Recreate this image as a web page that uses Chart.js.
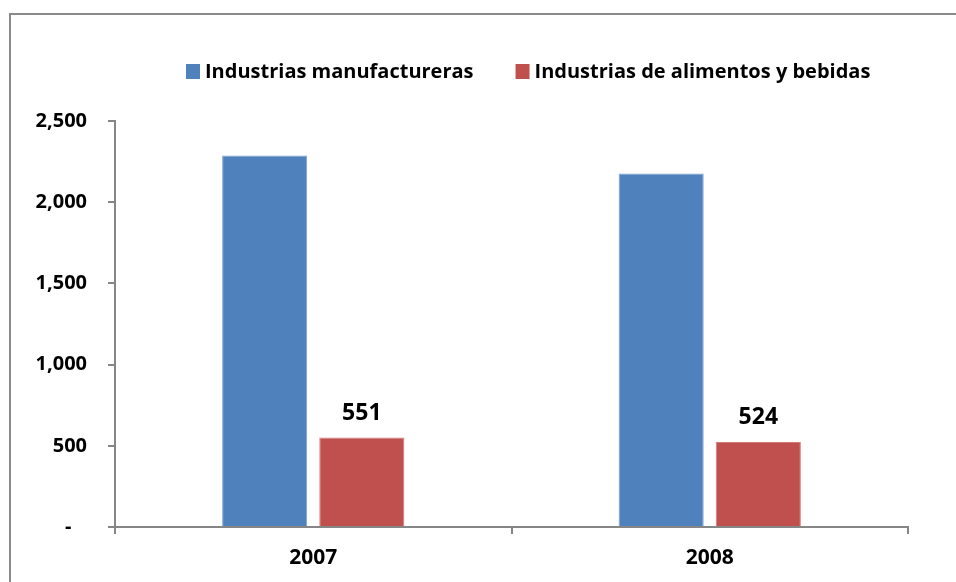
<!DOCTYPE html>
<html>
<head>
<meta charset="utf-8">
<script src="https://cdn.jsdelivr.net/npm/chart.js@4.4.1/dist/chart.umd.min.js"></script>
<style>
    html, body { margin: 0; padding: 0; background: #fff; overflow: hidden; }
    #wrap { position: relative; width: 956px; height: 582px; }
    #frame {
        position: absolute; left: 9px; top: 13px;
        width: 1000px; height: 700px;
        border: 2px solid #8a8a8a; box-sizing: border-box;
    }
    canvas { position: absolute; left: 0; top: 0; }
</style>
</head>
<body>
<div id="wrap">
    <div id="frame"></div>
    <canvas id="chart" width="956" height="582"></canvas>
</div>
<script>
    // Years and series values
    const years = ['2007', '2008'];
    const manufacturing = [2287, 2176];
    const foodBeverage = [551, 524];
    const seriesNames = ['Industrias manufactureras', 'Industrias de alimentos y bebidas'];
    const yTicks = [0, 500, 1000, 1500, 2000, 2500];

    const FONT = '"Open Sans", "Noto Sans", sans-serif';
    const AXIS_GRAY = '#868686';

    // Legend drawn across the top, boxes followed by bold labels
    const topLegend = {
        id: 'topLegend',
        afterDraw(chart) {
            const ctx = chart.ctx;
            let x = 186;
            const y = 72;
            ctx.save();
            ctx.font = 'bold 20px ' + FONT;
            ctx.textBaseline = 'middle';
            ctx.textAlign = 'left';
            chart.data.datasets.forEach(function(ds) {
                ctx.fillStyle = ds.backgroundColor;
                ctx.fillRect(x, y - 8, 14, 15);
                ctx.fillStyle = '#000';
                ctx.fillText(ds.label, x + 19, y);
                x += 19 + ctx.measureText(ds.label).width + 42;
            });
            ctx.restore();
        }
    };

    // Value labels above the food & beverage bars
    const valueLabels = {
        id: 'valueLabels',
        afterDatasetsDraw(chart) {
            const ctx = chart.ctx;
            const meta = chart.getDatasetMeta(1);
            ctx.save();
            ctx.font = 'bold 23px ' + FONT;
            ctx.fillStyle = '#000';
            ctx.textAlign = 'center';
            ctx.textBaseline = 'alphabetic';
            meta.data.forEach(function(bar, i) {
                ctx.fillText(String(chart.data.datasets[1].data[i]), bar.x, bar.y - 18);
            });
            ctx.restore();
        }
    };

    new Chart(document.getElementById('chart'), {
        type: 'bar',
        data: {
            labels: years,
            datasets: [
                {
                    label: seriesNames[0],
                    data: manufacturing,
                    backgroundColor: '#4F81BD',
                    borderColor: '#7FA2CF',
                    borderWidth: 1,
                    categoryPercentage: 0.49,
                    barPercentage: 0.876
                },
                {
                    label: seriesNames[1],
                    data: foodBeverage,
                    backgroundColor: '#C0504D',
                    borderColor: '#D27C7A',
                    borderWidth: 1,
                    categoryPercentage: 0.49,
                    barPercentage: 0.876
                }
            ]
        },
        options: {
            responsive: false,
            animation: false,
            layout: {
                padding: { left: 20, right: 48, top: 121, bottom: 0 }
            },
            plugins: {
                legend: { display: false },
                tooltip: { enabled: false }
            },
            scales: {
                x: {
                    grid: {
                        offset: true,
                        drawOnChartArea: false,
                        drawTicks: true,
                        tickLength: 7,
                        color: AXIS_GRAY,
                        lineWidth: 2
                    },
                    border: { color: AXIS_GRAY, width: 2 },
                    ticks: {
                        color: '#000',
                        padding: 11,
                        font: { family: FONT, size: 21, weight: 'bold' }
                    },
                    afterFit: function(scale) { scale.height = 55; }
                },
                y: {
                    min: 0,
                    max: 2500,
                    afterBuildTicks: function(scale) {
                        scale.ticks = yTicks.map(v => ({ value: v }));
                    },
                    grid: {
                        drawOnChartArea: false,
                        drawTicks: true,
                        tickLength: 7,
                        color: AXIS_GRAY,
                        lineWidth: 2
                    },
                    border: { color: AXIS_GRAY, width: 2 },
                    ticks: {
                        color: '#000',
                        padding: 21,
                        font: { family: FONT, size: 20, weight: 'bold' },
                        callback: function(value) {
                            return value === 0 ? '-   ' : value.toLocaleString('en-US');
                        }
                    },
                    afterFit: function(scale) { scale.width = 95; }
                }
            }
        },
        plugins: [topLegend, valueLabels]
    });
</script>
</body>
</html>
